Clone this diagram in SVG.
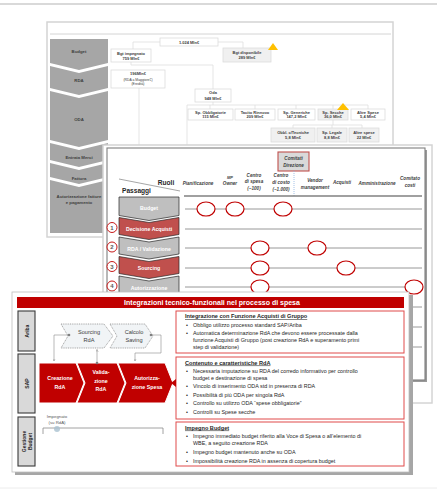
<svg xmlns="http://www.w3.org/2000/svg" width="437" height="490" viewBox="0 0 437 490">
<defs>
<style>
text{font-family:"Liberation Sans",Arial,sans-serif;}
.frame{fill:#fff;stroke:#d4d4d4;stroke-width:1.5}
.stage{fill:#a6a6a6}
.stl{font-size:4.3px;font-weight:bold;fill:#404040;text-anchor:middle}
.tb{fill:#fff;stroke:#dcdcdc;stroke-width:0.8}
.tbg{fill:#f0f0f0;stroke:#dcdcdc;stroke-width:0.8}
.tt{font-size:4px;font-weight:bold;fill:#404040;text-anchor:middle}
.tree{fill:none;stroke:#dedede;stroke-width:0.8}
.warn{fill:#ffc000}
.col{font-size:4.6px;font-weight:bold;font-style:italic;fill:#404040;text-anchor:middle}
.row{stroke:#8c8c8c;stroke-width:0.9}
.role{fill:#fff;stroke:#c00000;stroke-width:1.2}
.pg{stroke:#262626;stroke-width:0.7}
.pl{font-size:5.2px;font-weight:bold;fill:#fff;text-anchor:middle}
.num{fill:#fff;stroke:#c00000;stroke-width:0.9}
.numt{font-size:6px;font-weight:bold;fill:#595959;text-anchor:middle}
.lane{fill:#d9d9d9;stroke:#3a3a3a;stroke-width:1.1}
.lanet{font-size:5px;font-weight:bold;fill:#262626;text-anchor:middle}
.sap{fill:#c00000;stroke:#fff;stroke-width:1}
.sapt{font-size:5.3px;font-weight:bold;fill:#fff;text-anchor:middle}
.ariba{fill:#f1f4f6;stroke:#7f7f7f;stroke-width:0.7;stroke-dasharray:1 0.8}
.aribat{font-size:5.6px;fill:#404040;text-anchor:middle}
.box{fill:#fff;stroke:#e04b4b;stroke-width:1}
.bh{font-size:5.6px;font-weight:bold;fill:#262626;text-decoration:underline}
.bt{font-size:5.4px;fill:#262626}
.conn{fill:none;stroke:#8c8c8c;stroke-width:0.6}
</style>
<marker id="ah" viewBox="0 0 6 6" refX="5" refY="3" markerWidth="5" markerHeight="5" orient="auto">
<path d="M0,0.5 L5,3 L0,5.5" fill="none" stroke="#8c8c8c" stroke-width="0.9"/>
</marker>
</defs>

<rect width="437" height="490" fill="#fff"/>
<line x1="0" y1="4" x2="437" y2="4" stroke="#d9d9d9" stroke-width="2"/>
<line x1="0" y1="488" x2="437" y2="488" stroke="#ececec" stroke-width="1"/>

<!-- Budget flow slide -->
<g id="budget-slide">
<rect class="frame" x="47" y="22" width="346" height="215"/>
<line x1="50" y1="34" x2="391" y2="34" stroke="#d4d4d4" stroke-width="1"/>
<g id="stages">
<polygon class="stage" points="50,39 108,39 108,63 79,70 50,63"/>
<polygon class="stage" points="50,66 79,73 108,66 108,88 79,95 50,88"/>
<polygon class="stage" points="50,91 79,98 108,91 108,140 79,147 50,140"/>
<polygon class="stage" points="50,143 79,150 108,143 108,160 79,167 50,160"/>
<polygon class="stage" points="50,163 79,170 108,163 108,177 79,184 50,177"/>
<polygon class="stage" points="50,180 79,187 108,180 108,233 50,233"/>
<text class="stl" x="79" y="53">Budget</text>
<text class="stl" x="79" y="82">RDA</text>
<text class="stl" x="79" y="121">ODA</text>
<text class="stl" x="79" y="158.5">Entrata Merci</text>
<text class="stl" x="79" y="179.5">Fattura</text>
<text class="stl" x="79" y="198">Autorizzazione fatture</text>
<text class="stl" x="79" y="204">e pagamento</text>
</g>
<g id="tree-links">
<path class="tree" d="M160,42 H133 V49 M218,42 H243 V48"/>
<path class="tree" d="M131,62 V65 H213 V89"/>
<path class="tree" d="M139,88 V145"/>
<path class="tree" d="M213,102 V105 M187,105 H368 M210,105 V109 M255,105 V109 M296,105 V109 M333,105 V109 M368,105 V109 M187,105 V145"/>
<path class="tree" d="M333,120 V125 M293,125 H362 M293,125 V128 M332,125 V128 M362,125 V128"/>
</g>
<g id="n-total"><rect class="tb" x="160" y="38" width="58" height="8"/><text class="tt" x="189" y="43.5">1.024 Mln€</text></g>
<g id="n-impegnato"><rect class="tb" x="111" y="49" width="40" height="13"/><text class="tt" x="131" y="54.5">Bgt impegnato</text><text class="tt" x="131" y="59.5">759 Mln€</text></g>
<g id="n-disponibile"><rect class="tbg" x="223" y="48" width="48" height="14"/><text class="tt" x="247" y="54">Bgt disponibile</text><text class="tt" x="247" y="59">289 Mln€</text><polygon class="warn" points="268,50 273,43 278,50"/></g>
<g id="n-rda"><rect class="tb" x="111" y="70" width="54" height="18"/><text class="tt" x="138" y="75">196Mln€</text><text class="tt" x="138" y="80.5" style="font-weight:normal;font-size:3.4px">(RDA a Maggiore€)</text><text class="tt" x="138" y="85" style="font-weight:normal;font-size:3.4px">(Eredità)</text></g>
<g id="n-oda"><rect class="tb" x="195" y="89" width="36" height="13"/><text class="tt" x="213" y="94">Oda</text><text class="tt" x="213" y="99.5">948 Mln€</text></g>
<g id="n-obbl"><rect class="tb" x="188" y="109" width="45" height="11"/><text class="tt" x="210.5" y="113.5">Sp. Obbligatorie</text><text class="tt" x="210.5" y="118">115 Mln€</text></g>
<g id="n-tacito"><rect class="tb" x="235" y="109" width="40" height="11"/><text class="tt" x="255" y="113.5">Tacito Rinnovo</text><text class="tt" x="255" y="118">209 Mln€</text></g>
<g id="n-generiche"><rect class="tb" x="278" y="109" width="37" height="11"/><text class="tt" x="296.5" y="113.5">Sp. Generiche</text><text class="tt" x="296.5" y="118">147,2 Mln€</text></g>
<g id="n-secche"><rect class="tbg" x="318" y="109" width="30" height="11"/><text class="tt" x="333" y="113.5">Sp. Secche</text><text class="tt" x="333" y="118">36,0 Mln€</text><polygon class="warn" points="337,110 343,103 349,110"/></g>
<g id="n-altre"><rect class="tb" x="351" y="109" width="34" height="11"/><text class="tt" x="368" y="113.5">Altre Spese</text><text class="tt" x="368" y="118">5,4 Mln€</text></g>
<g id="n-obbltec"><rect class="tbg" x="271" y="128" width="44" height="14"/><text class="tt" x="293" y="134">Obbl. c/Tecniche</text><text class="tt" x="293" y="139">5,8 Mln€</text></g>
<g id="n-legale"><rect class="tbg" x="317" y="128" width="30" height="14"/><text class="tt" x="332" y="134">Sp. Legale</text><text class="tt" x="332" y="139">8,8 Mln€</text></g>
<g id="n-altrespese"><rect class="tbg" x="349" y="128" width="30" height="14"/><text class="tt" x="364" y="134">Altre spese</text><text class="tt" x="364" y="139">22 Mln€</text></g>
</g>

<!-- Roles / steps matrix slide -->
<g id="roles-slide">
<rect class="frame" x="103" y="145" width="329" height="258"/>
<rect x="109" y="150" width="318" height="232" fill="#9a9a9a"/>
<rect x="107" y="148" width="318" height="232" fill="#fff" stroke="#7f7f7f" stroke-width="1.1"/>
<line x1="119" y1="179" x2="180" y2="191" stroke="#7f7f7f" stroke-width="0.7"/>
<text x="166" y="184.5" style="font-size:6.6px;font-weight:bold;fill:#262626;text-anchor:middle">Ruoli</text>
<text x="122" y="193" style="font-size:6.6px;font-weight:bold;fill:#262626">Passaggi</text>
<g id="role-headers">
<text class="col" x="198" y="185">Pianificazione</text>
<text class="col" x="230" y="179" style="font-size:4px">MP</text>
<text class="col" x="230" y="185">Owner</text>
<text class="col" x="254" y="177">Centro</text>
<text class="col" x="254" y="183">di spesa</text>
<text class="col" x="254" y="189.5">(~100)</text>
<text class="col" x="281" y="177">Centro</text>
<text class="col" x="281" y="184">di costo</text>
<text class="col" x="281" y="191">(~1.000)</text>
<g id="comitati-direzione">
<rect x="278" y="152" width="31" height="19" fill="#d9d9d9" stroke="#c0504d" stroke-width="1.1"/>
<text class="col" x="293.5" y="160">Comitati</text>
<text class="col" x="293.5" y="166.5">Direzione</text>
</g>
<line x1="294" y1="171" x2="294" y2="196" stroke="#8db3e2" stroke-width="0.8" stroke-dasharray="1 1"/>
<text class="col" x="315" y="182">Vendor</text>
<text class="col" x="315" y="188.5">management</text>
<text class="col" x="342" y="184">Acquisti</text>
<text class="col" x="377" y="185">Amministrazione</text>
<text class="col" x="410" y="180">Comitato</text>
<text class="col" x="410" y="186.5">costi</text>
</g>
<line x1="184" y1="196" x2="422" y2="196" stroke="#808080" stroke-width="1.3"/>
<g id="role-rows">
<line class="row" x1="185" y1="209" x2="422" y2="209"/>
<line class="row" x1="185" y1="229" x2="422" y2="229"/>
<line class="row" x1="185" y1="248" x2="422" y2="248"/>
<line class="row" x1="185" y1="268" x2="422" y2="268"/>
<line class="row" x1="185" y1="287" x2="422" y2="287"/>
<line class="row" x1="185" y1="307" x2="422" y2="307"/>
<line class="row" x1="185" y1="327" x2="422" y2="327"/>
<line class="row" x1="185" y1="347" x2="422" y2="347"/>
</g>
<g id="role-marks">
<ellipse class="role" cx="206" cy="209" rx="9" ry="7"/>
<ellipse class="role" cx="235" cy="209" rx="9" ry="7"/>
<ellipse class="role" cx="283" cy="209" rx="9" ry="7"/>
<ellipse class="role" cx="260" cy="248" rx="9" ry="7"/>
<ellipse class="role" cx="317" cy="248" rx="9" ry="7"/>
<ellipse class="role" cx="260" cy="268" rx="9" ry="7"/>
<ellipse class="role" cx="346" cy="268" rx="9" ry="7"/>
<ellipse class="role" cx="260" cy="287" rx="9" ry="7"/>
<ellipse class="role" cx="414" cy="287" rx="9" ry="7"/>
</g>
<g id="steps">
<polygon class="pg" fill="#bfbfbf" points="119,197 179,197 179,215.5 149,220.5 119,215.5"/>
<polygon class="pg" fill="#c0504d" points="119,217.5 149,222.5 179,217.5 179,234.5 149,239.5 119,234.5"/>
<polygon class="pg" fill="#bfbfbf" points="119,237 149,242 179,237 179,254 149,259 119,254"/>
<polygon class="pg" fill="#c0504d" points="119,256.5 149,261.5 179,256.5 179,273.5 149,278.5 119,273.5"/>
<polygon class="pg" fill="#bfbfbf" points="119,276 149,281 179,276 179,293 149,298 119,293"/>
<text class="pl" x="149" y="210">Budget</text>
<text class="pl" x="149" y="231">Decisione Acquisti</text>
<text class="pl" x="149" y="250.5">RDA / Validazione</text>
<text class="pl" x="149" y="270">Sourcing</text>
<text class="pl" x="149" y="289.5">Autorizzazione</text>
</g>
<g id="step-numbers">
<circle class="num" cx="112" cy="227.5" r="5"/><text class="numt" x="112" y="229.7">1</text>
<circle class="num" cx="112" cy="247" r="5"/><text class="numt" x="112" y="249.2">2</text>
<circle class="num" cx="112" cy="266.5" r="5"/><text class="numt" x="112" y="268.7">3</text>
<circle class="num" cx="112" cy="286" r="5"/><text class="numt" x="112" y="288.2">4</text>
</g>
</g>

<!-- Technical/functional integration slide -->
<g id="integration-slide">
<rect x="15" y="295" width="398" height="180" fill="#a6a6a6"/>
<rect x="12" y="292" width="397" height="180" fill="#fff" stroke="#bfbfbf" stroke-width="0.8"/>
<rect x="17" y="297" width="387" height="11" fill="#c00000"/>
<text x="212" y="305" style="font-size:7px;font-weight:bold;fill:#fff;text-anchor:middle">Integrazioni tecnico-funzionali nel processo di spesa</text>

<g id="lane-ariba"><rect class="lane" x="18" y="311" width="17" height="40"/><text class="lanet" transform="translate(28.5,331) rotate(-90)">Ariba</text></g>
<g id="lane-sap"><rect class="lane" x="18" y="354" width="17" height="59"/><text class="lanet" transform="translate(28.5,383.5) rotate(-90)">SAP</text></g>
<g id="lane-budget"><rect class="lane" x="18" y="417" width="17" height="49"/><text class="lanet" transform="translate(25.5,441.5) rotate(-90)">Gestione</text><text class="lanet" transform="translate(31.5,441.5) rotate(-90)">Budget</text></g>

<g id="sourcing-rda"><path class="ariba" d="M61,324 H104 L113,336 L104,348 H61 L68,336 Z"/><text class="aribat" x="89" y="334">Sourcing</text><text class="aribat" x="89" y="341.5">RdA</text></g>
<g id="calcolo-saving"><path class="ariba" d="M110,324 H145 L153,336 L145,348 H110 L117,336 Z"/><text class="aribat" x="134" y="334">Calcolo</text><text class="aribat" x="134" y="341.5">Saving</text></g>

<g id="creazione-rda"><path class="sap" d="M39,363 H76 L84,383 L76,403 H39 Z"/><text class="sapt" x="60" y="380">Creazione</text><text class="sapt" x="60" y="389">RdA</text></g>
<g id="validazione-rda"><path class="sap" d="M77,363 H117 L125,383 L117,403 H77 L85,383 Z"/><text class="sapt" x="101" y="374">Valida-</text><text class="sapt" x="101" y="382.5">zione</text><text class="sapt" x="101" y="391">RdA</text></g>
<g id="autorizzazione-spesa"><path class="sap" d="M118,363 H165 L173,383 L165,403 H118 L126,383 Z"/><text class="sapt" x="147" y="380">Autorizza-</text><text class="sapt" x="147" y="389">zione Spesa</text></g>

<g id="impegnato">
<text x="57" y="418" style="font-size:4.3px;fill:#595959;text-anchor:middle">Impegnato</text>
<text x="57" y="423.5" style="font-size:4.3px;fill:#595959;text-anchor:middle">(su RdA)</text>
<path d="M43,434 V428 H163 V434" fill="none" stroke="#8c8c8c" stroke-width="0.8"/>
<circle cx="57" cy="429" r="3" fill="#a9c1d0" opacity="0.8"/>
</g>

<g id="connectors">
<path class="conn" d="M69,335 H54 V361" marker-end="url(#ah)"/>
<path class="conn" d="M97,363 V349.5" marker-end="url(#ah)"/>
<path class="conn" d="M151,335 H161 V353 H135 V361" marker-end="url(#ah)"/>
<circle cx="69" cy="335" r="1.3" fill="#7f7f7f"/>
<circle cx="97" cy="363" r="1.3" fill="#7f7f7f"/>
<circle cx="151" cy="335" r="1.3" fill="#7f7f7f"/>
</g>

<g id="box-acquisti">
<rect class="box" x="176" y="311" width="228" height="42"/>
<text class="bh" x="185" y="318">Integrazione con Funzione Acquisti di Gruppo</text>
<text class="bt" x="186" y="326.5">•</text><text class="bt" x="193" y="326.5">Obbligo utilizzo processo standard SAP/Ariba</text>
<text class="bt" x="186" y="335">•</text><text class="bt" x="193" y="335">Automatica determinazione RdA che devono essere processate dalla</text>
<text class="bt" x="193" y="342">funzione Acquisti di Gruppo (post creazione RdA e superamento primi</text>
<text class="bt" x="193" y="349">step di validazione)</text>
</g>
<g id="box-rda">
<rect class="box" x="176" y="357" width="228" height="62"/>
<polygon points="176,379 171,383 176,387" fill="#c00000"/>
<text class="bh" x="185" y="364.5">Contenuto e caratteristiche RdA</text>
<text class="bt" x="186" y="372.5">•</text><text class="bt" x="193" y="372.5">Necessaria imputazione su RDA del corredo informativo per controllo</text>
<text class="bt" x="193" y="379.5">budget e destinazione di spesa</text>
<text class="bt" x="186" y="388">•</text><text class="bt" x="193" y="388">Vincolo di inserimento ODA std in presenza di RDA</text>
<text class="bt" x="186" y="396.5">•</text><text class="bt" x="193" y="396.5">Possibilità di più ODA per singola RdA</text>
<text class="bt" x="186" y="405">•</text><text class="bt" x="193" y="405">Controllo su utilizzo ODA “spese obbligatorie”</text>
<text class="bt" x="186" y="414">•</text><text class="bt" x="193" y="414">Controlli su Spese secche</text>
</g>
<g id="box-budget">
<rect class="box" x="176" y="422" width="228" height="44"/>
<text class="bh" x="185" y="429.5">Impegno Budget</text>
<text class="bt" x="186" y="438">•</text><text class="bt" x="193" y="438">Impegno immediato budget riferito alla Voce di Spesa o all’elemento di</text>
<text class="bt" x="193" y="445">WBE, a seguito creazione RDA</text>
<text class="bt" x="186" y="454">•</text><text class="bt" x="193" y="454">Impegno budget mantenuto anche su ODA</text>
<text class="bt" x="186" y="462.5">•</text><text class="bt" x="193" y="462.5">Impossibilità creazione RDA in assenza di copertura budget</text>
</g>
</g>
</svg>
